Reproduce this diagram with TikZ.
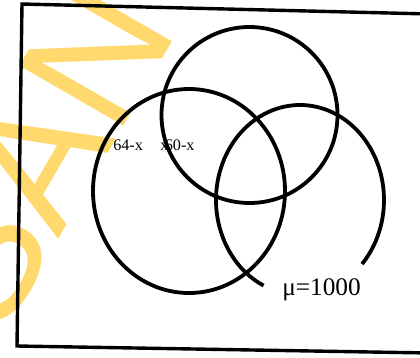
\documentclass[tikz,border=0pt]{standalone}
\usepackage{fontspec}
\setmainfont{Liberation Serif}
\newfontfamily\markfont{Liberation Sans}
\definecolor{markyellow}{RGB}{255,216,110}

\begin{document}
\begin{tikzpicture}[x=0.25mm,y=-0.25mm,
    setline/.style={line width=0.95mm},
    frameline/.style={line width=0.85mm},
    regionlabel/.style={inner sep=0pt,anchor=base west,font=\fontsize{11.5}{13}\selectfont},
    totallabel/.style={inner sep=0pt,anchor=base west,font=\fontsize{18}{20}\selectfont},
    watermark/.style={text=markyellow,rotate=60,inner sep=0pt,font=\markfont\fontsize{124}{126}\selectfont}]
    \useasboundingbox (0,0) rectangle (420,357);
    \clip (0,0) rectangle (420,357);
    % faded watermark behind the scan
    \node[watermark] (mark) at (38,155) {SAN};
    % universal set box (open on the right)
    \draw[frameline] (430,14) -- (22,4) -- (17,346) -- (430,353);
    % three sets
    \draw[setline] (249.5,115) circle [radius=88];
    \draw[setline] (189,191) ellipse [x radius=96, y radius=102];
    \draw[setline] (300,200) ++(115.7:84 and 95)
        arc [start angle=115.7, end angle=402.4, x radius=84, y radius=95];
    % region values
    \node[regionlabel] (onlyA) at (113,150) {64-x};
    \node[regionlabel] (AandB) at (160,150) {x\kern-2.5pt60-x};
    \node[totallabel] (total) at (282,295) {μ=1000};
\end{tikzpicture}
\end{document}
